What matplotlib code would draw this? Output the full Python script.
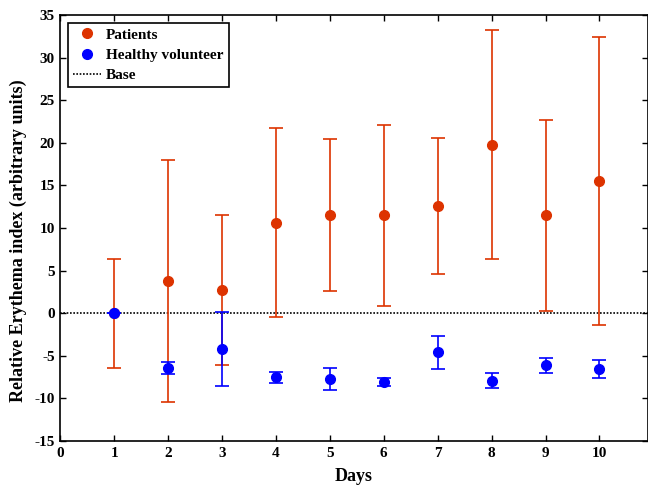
import matplotlib
matplotlib.use("Agg")
import matplotlib.pyplot as plt
from matplotlib.lines import Line2D

days = [1, 2, 3, 4, 5, 6, 7, 8, 9, 10]
patients = [0.0, 3.8, 2.7, 10.6, 11.5, 11.5, 12.6, 19.8, 11.5, 15.5]
patients_err = [6.4, 14.2, 8.8, 11.1, 8.9, 10.6, 8.0, 13.4, 11.2, 16.9]
healthy = [0.0, -6.4, -4.2, -7.5, -7.75, -8.1, -4.6, -7.9, -6.1, -6.6]
healthy_err = [0.0, 0.7, 4.3, 0.65, 1.3, 0.5, 1.9, 0.9, 0.9, 1.05]
xticks = list(range(0, 11))
yticks = list(range(-15, 36, 5))

plt.rcParams['font.family'] = ['Liberation Serif', 'DejaVu Serif']
plt.rcParams['font.weight'] = 'bold'
plt.rcParams['axes.unicode_minus'] = False

red = '#dd3300'
blue = '#0000ff'

fig = plt.figure(figsize=(6.48, 4.87), dpi=100)
ax = fig.add_axes([0.093, 0.0945, 0.907, 0.8745])

ax.axhline(0, color='black', linestyle=(0, (1, 1)), linewidth=1.2, zorder=1)
ax.errorbar(days, patients, yerr=patients_err, fmt='o', color=red, ecolor=red,
            markersize=7, capsize=5, elinewidth=1.2, capthick=1.2, zorder=2)
ax.errorbar(days, healthy, yerr=healthy_err, fmt='o', color=blue, ecolor=blue,
            markersize=7, capsize=5, elinewidth=1.2, capthick=1.2, zorder=3)

ax.set_xlim(0, 10.9)
ax.set_ylim(-15, 35)
ax.set_xticks(xticks)
ax.set_yticks(yticks)
ax.tick_params(direction='in', top=True, right=True, length=4, width=1, labelsize=11, pad=4)
for lab in ax.get_xticklabels() + ax.get_yticklabels():
    lab.set_fontweight('bold')
for s in ax.spines.values():
    s.set_linewidth(1.2)

ax.set_xlabel('Days', fontsize=13, fontweight='bold', labelpad=6)
ax.set_ylabel('Relative Erythema index (arbitrary units)', fontsize=13, fontweight='bold')
ax.yaxis.set_label_coords(-0.056, 0.47)

handles = [
    Line2D([], [], marker='o', color=red, linestyle='none', markersize=7),
    Line2D([], [], marker='o', color=blue, linestyle='none', markersize=7),
    Line2D([], [], color='black', linestyle=(0, (1, 1)), linewidth=1.2),
]
leg = ax.legend(handles, ['Patients', 'Healthy volunteer', 'Base'], loc='upper left',
                fancybox=False, edgecolor='black', framealpha=1,
                handlelength=1.8, handletextpad=0.35, borderpad=0.35, labelspacing=0.42,
                borderaxespad=0.5, prop={'weight': 'bold', 'size': 11})
leg.get_frame().set_linewidth(1.2)

fig.savefig('out.png', dpi=100)
